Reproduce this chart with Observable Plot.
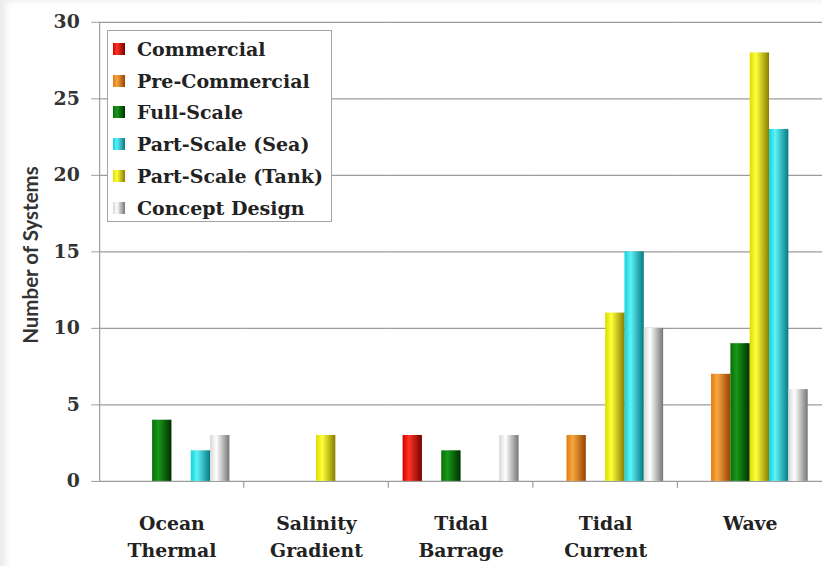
<!DOCTYPE html>
<html>
<head>
<meta charset="utf-8">
<script src="https://cdn.jsdelivr.net/npm/d3@7"></script>
<script src="https://cdn.jsdelivr.net/npm/@observablehq/plot@0.6"></script>
<style>
  html, body { margin: 0; padding: 0; background: #fff; overflow: hidden; }
  #wrap { position: relative; width: 822px; height: 566px; overflow: hidden; background: #fff; }
  #edge { position: absolute; inset: 0; pointer-events: none;
          box-shadow: inset 9px 4px 6px -3px rgba(0,0,0,0.08); }
  #ylabel { position: absolute; left: 30px; top: 255px; transform: translate(-50%, -50%) rotate(-90deg);
            font: bold 20.5px Lato, "Noto Sans", sans-serif; color: #333; white-space: nowrap; }
  #legend { position: absolute; left: 107px; top: 30px; width: 225px; height: 192px; box-sizing: border-box;
            border: 1.5px solid #a4a4a4; background: #fff; padding: 2px 0 0 5px;
            font: bold 19px "Palatino Linotype", "Book Antiqua", Palatino, "DejaVu Serif", serif; color: #222; }
  #legend .item { display: flex; align-items: center; height: 31.8px; white-space: nowrap; }
  #legend .sw { width: 12px; height: 12px; margin-right: 12px; flex: none; }
</style>
</head>
<body>
<div id="wrap"></div>
<script>
// Marine energy systems by development stage
const categories = ["Ocean\nThermal", "Salinity\nGradient", "Tidal\nBarrage", "Tidal\nCurrent", "Wave"];
const seriesNames = ["Commercial", "Pre-Commercial", "Full-Scale", "Part-Scale (Sea)", "Part-Scale (Tank)", "Concept Design"];

const commercial    = [0, 0, 3, 0, 0];
const preCommercial = [0, 0, 0, 3, 7];
const fullScale     = [4, 0, 2, 0, 9];
const partScaleSea  = [2, 0, 0, 15, 23];
const partScaleTank = [0, 3, 0, 11, 28];
const conceptDesign = [3, 0, 3, 10, 6];

const yTicks = [0, 5, 10, 15, 20, 25, 30];

// order of the bars inside each category group
const barOrder = ["Commercial", "Pre-Commercial", "Full-Scale", "Part-Scale (Tank)", "Part-Scale (Sea)", "Concept Design"];

// shaded fill for each series: base, highlight, shadow
const shadeBase  = ["#d20000", "#e07a12", "#0a6c0a", "#12d2da", "#dcdc00", "#d6d6d6"];
const shadeLight = ["#ff3424", "#f8a640", "#189818", "#5ef2f8", "#ffff3a", "#ffffff"];
const shadeDark  = ["#760000", "#984200", "#003000", "#067a82", "#887e00", "#767676"];

const seriesValues = [commercial, preCommercial, fullScale, partScaleSea, partScaleTank, conceptDesign];
const rows = [];
seriesNames.forEach((s, si) => {
  seriesValues[si].forEach((v, ci) => {
    if (v > 0) rows.push({category: categories[ci], series: s, value: v});
  });
});

const serif = '"Palatino Linotype", "Book Antiqua", Palatino, "DejaVu Serif", serif';
const gradId = (i) => `bar-shade-${i}`;

const plot = Plot.plot({
  width: 829,
  height: 566,
  marginLeft: 100,
  marginRight: 0,
  marginTop: 22,
  marginBottom: 81,
  style: {fontFamily: serif, color: "#2a2a2a", background: "transparent", overflow: "visible"},
  fx: {domain: categories, padding: 0, round: false, label: null, axis: null},
  x: {domain: barOrder, paddingInner: 0, paddingOuter: 0.74, round: false, axis: null},
  y: {domain: [0, 30], label: null, axis: null},
  color: {domain: seriesNames, range: seriesNames.map((_, i) => `url(#${gradId(i)})`)},
  marks: [
    Plot.gridY(yTicks, {stroke: "#9c9c9c", strokeOpacity: 1, strokeWidth: 1.2}),
    Plot.frame({anchor: "left", facetAnchor: "left", stroke: "#9c9c9c", strokeWidth: 1.2}),
    Plot.axisY(yTicks, {
      anchor: "left", tickSize: 8, tickPadding: 12, stroke: "#9c9c9c",
      fontSize: 19, fontWeight: "bold", fill: "#333", label: null
    }),
    Plot.barY(rows, {fx: "category", x: "series", y: "value", fill: "series"}),
    Plot.axisFx({
      anchor: "bottom", tickSize: 0, tickPadding: 30, lineHeight: 1.42,
      fontSize: 19, fontWeight: "bold", fill: "#222", label: null
    })
  ]
});

// horizontal shading gradients used by the bars
const svg = d3.select(plot);
const defs = svg.insert("defs", ":first-child");
seriesNames.forEach((s, i) => {
  const g = defs.append("linearGradient").attr("id", gradId(i)).attr("x1", "0").attr("x2", "1").attr("y1", "0").attr("y2", "0");
  g.append("stop").attr("offset", "0%").attr("stop-color", shadeBase[i]);
  g.append("stop").attr("offset", "32%").attr("stop-color", shadeLight[i]);
  g.append("stop").attr("offset", "100%").attr("stop-color", shadeDark[i]);
});

// small category separator ticks below the baseline
const fx = plot.scale("fx");
const y = plot.scale("y");
const y0 = y.apply(0);
svg.append("g")
  .attr("stroke", "#9c9c9c")
  .attr("stroke-width", 1.2)
  .selectAll("line")
  .data(categories.slice(0, -1))
  .join("line")
  .attr("x1", (c) => fx.apply(c) + fx.bandwidth)
  .attr("x2", (c) => fx.apply(c) + fx.bandwidth)
  .attr("y1", y0)
  .attr("y2", y0 + 7);

const wrap = document.getElementById("wrap");
wrap.appendChild(plot);

// axis title
const ylabel = document.createElement("div");
ylabel.id = "ylabel";
ylabel.textContent = "Number of Systems";
wrap.appendChild(ylabel);

// legend box
const legend = document.createElement("div");
legend.id = "legend";
seriesNames.forEach((s, i) => {
  const item = document.createElement("div");
  item.className = "item";
  const sw = document.createElement("span");
  sw.className = "sw";
  sw.style.background = `linear-gradient(to right, ${shadeBase[i]} 0%, ${shadeLight[i]} 32%, ${shadeDark[i]} 100%)`;
  const label = document.createElement("span");
  label.textContent = s;
  item.appendChild(sw);
  item.appendChild(label);
  legend.appendChild(item);
});
wrap.appendChild(legend);

const edge = document.createElement("div");
edge.id = "edge";
wrap.appendChild(edge);
</script>
</body>
</html>
